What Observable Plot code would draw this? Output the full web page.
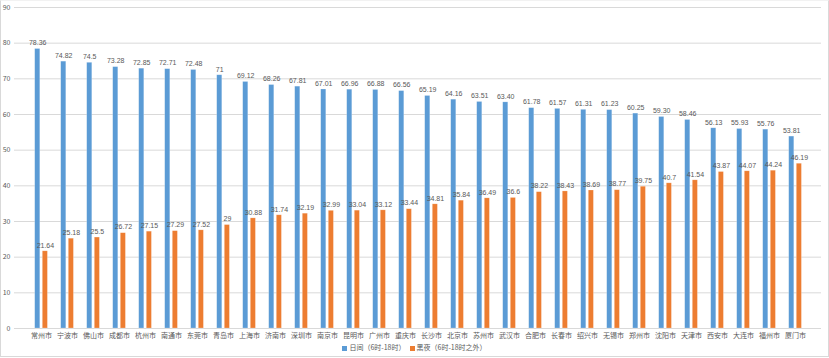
<!DOCTYPE html>
<html>
<head>
<meta charset="utf-8">
<script src="https://cdn.jsdelivr.net/npm/d3@7"></script>
<script src="https://cdn.jsdelivr.net/npm/@observablehq/plot@0.6"></script>
<style>
  html, body { margin: 0; padding: 0; background: #fff; overflow: hidden; }
  #plot svg { display: block; width: 829px !important; height: 342px !important; max-width: none !important; }
  #legend { width: 829px; height: 14px; line-height: 10px; text-align: center; font: 7px "Noto Sans CJK SC", sans-serif; color: #595959; }
  #legend span.sw { display: inline-block; width: 5px; height: 5px; margin-right: 2px; vertical-align: -0.5px; }
  #legend span.item { margin: 0 2px; }
  #frame { position: fixed; left: 0; top: 0; width: 829px; height: 357px; box-sizing: border-box; border: 1px solid #d9d9d9; border-top-color: #f2f2f2; pointer-events: none; }
</style>
</head>
<body>
<div id="plot"></div>
<div id="legend"></div>
<div id="frame"></div>
<script>
const cities = ["常州市","宁波市","佛山市","成都市","杭州市","南通市","东莞市","青岛市","上海市","济南市","深圳市","南京市","昆明市","广州市","重庆市","长沙市","北京市","苏州市","武汉市","合肥市","长春市","绍兴市","无锡市","郑州市","沈阳市","天津市","西安市","大连市","福州市","厦门市"];
const dayLabels = ["78.36","74.82","74.5","73.28","72.85","72.71","72.48","71","69.12","68.26","67.81","67.01","66.96","66.88","66.56","65.19","64.16","63.51","63.40","61.78","61.57","61.31","61.23","60.25","59.30","58.46","56.13","55.93","55.76","53.81"];
const nightLabels = ["21.64","25.18","25.5","26.72","27.15","27.29","27.52","29","30.88","31.74","32.19","32.99","33.04","33.12","33.44","34.81","35.84","36.49","36.6","38.22","38.43","38.69","38.77","39.75","40.7","41.54","43.87","44.07","44.24","46.19"];
const seriesNames = ["日间（6时-18时）","黑夜（6时-18时之外）"];
const seriesColors = ["#5B9BD5","#ED7D31"];
const yTicks = [0,10,20,30,40,50,60,70,80,90];

const dayRows = cities.map((c, i) => ({city: c, value: +dayLabels[i], label: dayLabels[i]}));
const nightRows = cities.map((c, i) => ({city: c, value: +nightLabels[i], label: nightLabels[i]}));

const chart = Plot.plot({
  width: 829,
  height: 342,
  marginTop: 7,
  marginBottom: 14,
  marginLeft: 14,
  marginRight: 8,
  style: {fontFamily: "'Noto Sans CJK SC', sans-serif", fontSize: "7px", color: "#595959", background: "#fff"},
  x: {domain: cities, padding: 0, label: null, tickSize: 0, tickPadding: 5},
  y: {domain: [0, 90], ticks: yTicks, tickSize: 0, tickPadding: 4, label: null},
  marks: [
    Plot.ruleY(yTicks, {stroke: "#d9d9d9", strokeWidth: 1}),
    Plot.barY(dayRows, {x: "city", y: "value", fill: seriesColors[0], insetLeft: 6.7, insetRight: 14.2, stroke: "#ffffff", strokeOpacity: 0.35, strokeWidth: 0.6}),
    Plot.barY(nightRows, {x: "city", y: "value", fill: seriesColors[1], insetLeft: 14.3, insetRight: 6.6, stroke: "#ffffff", strokeOpacity: 0.35, strokeWidth: 0.6}),
    Plot.text(dayRows, {x: "city", y: "value", text: "label", dx: -3.8, dy: -6, fill: "#595959", fontSize: 7, fontFamily: "Liberation Sans, sans-serif"}),
    Plot.text(nightRows, {x: "city", y: "value", text: "label", dx: 3.9, dy: -6, fill: "#595959", fontSize: 7, fontFamily: "Liberation Sans, sans-serif"})
  ]
});
document.getElementById("plot").appendChild(chart);

const legend = document.getElementById("legend");
seriesNames.forEach((n, i) => {
  const item = document.createElement("span");
  item.className = "item";
  const sw = document.createElement("span");
  sw.className = "sw";
  sw.style.background = seriesColors[i];
  item.appendChild(sw);
  item.appendChild(document.createTextNode(n));
  legend.appendChild(item);
});
</script>
</body>
</html>
